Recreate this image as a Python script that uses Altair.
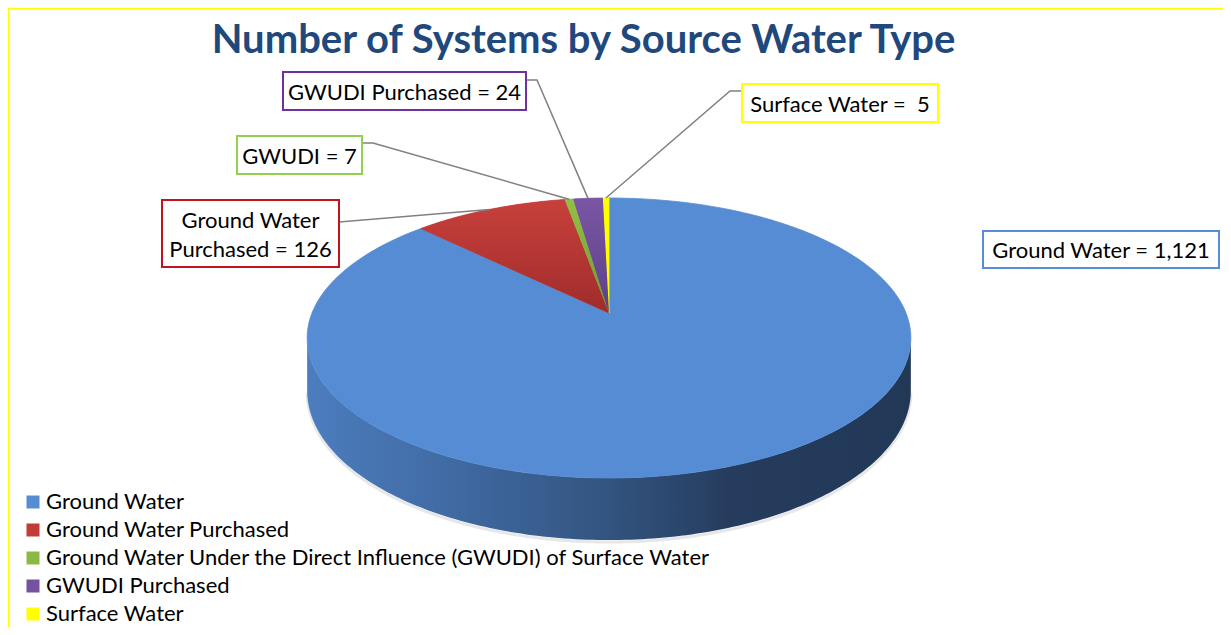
import math
import altair as alt
import pandas as pd

# ---------------- data ----------------
categories = [
    "Ground Water",
    "Ground Water Purchased",
    "Ground Water Under the Direct Influence (GWUDI) of Surface Water",
    "GWUDI Purchased",
    "Surface Water",
]
values = [1121, 126, 7, 24, 5]
short_names = ["Ground Water", "Ground Water\nPurchased", "GWUDI", "GWUDI Purchased", "Surface Water"]
label_seps = [" = ", " = ", " = ", " = ", " =\u00a0 "]
title_text = "Number of Systems by Source Water Type"

# ---------------- styles ----------------
slice_colors = ["#558CD3", "#C23B37", "#8CB844", "#74529E", "#FFFF00"]
border_colors = ["#558ED5", "#C0141C", "#92D050", "#7030A0", "#FFFF00"]
FONT = "Lato"

# ---------------- layout (image pixel units) ----------------
W, H = 1215, 619
CX, CY0 = 609.0, 313.0      # apex of the pie
AX, AY = 297.0, 79.64       # perspective ellipse parameters
PC = -0.1786                # perspective factor
D0 = 51.0                   # pie thickness
N = 180                     # arc resolution
TL = math.acos(PC)          # silhouette tangent angles
TR = 2 * math.pi - TL
LINE_H = 29

XS = alt.Scale(domain=[8, 8 + W], nice=False, zero=False)
YS = alt.Scale(domain=[8, 8 + H], nice=False, zero=False, reverse=True)

df = pd.DataFrame({"cat": categories, "value": values, "order": list(range(len(values)))})

DEN = f"(1 - ({PC})*cos(datum.a))"
PX = f"{CX} + {AX}*sin(datum.a)/{DEN}"
PY = f"({CY0} - {AY}*cos(datum.a))/{DEN}"


def base():
    return (
        alt.Chart(df)
        .transform_joinaggregate(total="sum(value)")
        .transform_window(cum="sum(value)", sort=[alt.SortField("order")], frame=[None, 0])
        .transform_calculate(a0="(datum.cum - datum.value)/datum.total*2*PI")
        .transform_calculate(a1="datum.cum/datum.total*2*PI")
    )


def top_faces():
    return (
        base()
        .transform_calculate(k=f"sequence(0, {N + 3})")
        .transform_flatten(["k"])
        .transform_calculate(a=f"datum.a0 + (datum.k-1)/{N}*(datum.a1-datum.a0)")
        .transform_calculate(isc=f"datum.k==0 || datum.k=={N + 2}")
        .transform_calculate(px=f"datum.isc ? {CX} : {PX}")
        .transform_calculate(py=f"datum.isc ? {CY0} : {PY}")
    )


pos = dict(
    x=alt.X("px:Q", scale=XS, axis=None),
    y=alt.Y("py:Q", scale=YS, axis=None),
    order=alt.Order("k:Q"),
    detail="cat:N",
)

color_scale = alt.Scale(domain=categories, range=slice_colors)

top = top_faces().mark_line(filled=True, strokeWidth=0.8).encode(
    color=alt.Color(
        "cat:N",
        scale=color_scale,
        legend=alt.Legend(
            title=None, orient="none", legendX=14, legendY=483,
            symbolType="square", symbolSize=169, symbolStrokeWidth=0,
            labelFont=FONT, labelFontSize=22, labelColor="#000000",
            labelLimit=1000, rowPadding=6, labelOffset=2, padding=0,
        ),
    ),
    stroke=alt.Stroke("cat:N", scale=color_scale, legend=None),
    **pos,
)


def grad_v(c0, c1):
    return alt.LinearGradient(
        gradient="linear", x1=0, y1=0, x2=0, y2=1,
        stops=[alt.GradientStop(offset=0, color=c0), alt.GradientStop(offset=1, color=c1)],
    )


overlays = []
for cat, c0, c1 in [
    (categories[1], "#C8403C", "#A02C2B"),
    (categories[2], "#93BF48", "#6F9A33"),
    (categories[3], "#7A56A5", "#5E3F86"),
]:
    overlays.append(
        top_faces()
        .transform_filter(alt.datum.cat == cat)
        .mark_line(filled=True, strokeWidth=0, color=grad_v(c0, c1))
        .encode(**pos)
    )

# side of the pie (front half), with horizontal shading
side_data = (
    base()
    .transform_calculate(s0=f"max(datum.a0, {TL})")
    .transform_calculate(s1=f"min(datum.a1, {TR})")
    .transform_filter("datum.s1 > datum.s0")
    .transform_calculate(k=f"sequence(0, {N + 1})")
    .transform_flatten(["k"])
    .transform_calculate(a=f"datum.s0 + datum.k/{N}*(datum.s1-datum.s0)")
    .transform_calculate(px=PX)
    .transform_calculate(py=PY)
    .transform_calculate(pyb=f"datum.py + {D0}/{DEN}")
    .transform_calculate(pys=f"datum.pyb + 2")
)

side_grad = alt.LinearGradient(
    gradient="linear", x1=0, y1=0, x2=1, y2=0,
    stops=[
        alt.GradientStop(offset=0.0, color="#4C7DBE"),
        alt.GradientStop(offset=0.25, color="#4069A2"),
        alt.GradientStop(offset=0.5, color="#32547F"),
        alt.GradientStop(offset=0.7, color="#263C5E"),
        alt.GradientStop(offset=1.0, color="#223857"),
    ],
)

shadow = side_data.mark_line(color="#A0A0A0", strokeWidth=3, opacity=0.25).encode(
    x=alt.X("px:Q", scale=XS, axis=None),
    y=alt.Y("pys:Q", scale=YS, axis=None),
    order=alt.Order("k:Q"),
)

side = side_data.mark_area(color=side_grad).encode(
    x=alt.X("px:Q", scale=XS, axis=None),
    y=alt.Y("py:Q", scale=YS, axis=None),
    y2="pyb:Q",
    detail="cat:N",
)

# ---------------- data labels ----------------
box_x0 = [983, 162, 237, 283, 742]
box_x1 = [1219, 339, 362, 526, 938]
box_y0 = [231, 200, 136, 72, 84]
box_y1 = [268, 267, 174, 110, 122]
lead_start = [None, (339, 222), (362, 143), (526, 80), (742, 91)]
lead_elbow = [None, None, (373, 143), (537, 80), (730, 91)]

total = sum(values)
labels = []
leads = []
cum = 0
for i, (cat, v) in enumerate(zip(categories, values)):
    mid = (cum + v / 2) / total * 2 * math.pi
    cum += v
    den = 1 - PC * math.cos(mid)
    ax_ = CX + AX * math.sin(mid) / den
    ay_ = (CY0 - AY * math.cos(mid)) / den
    text = f"{short_names[i]}{label_seps[i]}{v:,}"
    nlines = text.count("\n") + 1
    labels.append(
        dict(
            cat=cat,
            text=text,
            x0=box_x0[i], x1=box_x1[i], y0=box_y0[i], y1=box_y1[i],
            xm=(box_x0[i] + box_x1[i]) / 2,
            ym=(box_y0[i] + box_y1[i]) / 2 - (nlines - 1) * LINE_H / 2 + 1.5,
            border=border_colors[i],
        )
    )
    if lead_start[i] is not None:
        pts = [lead_start[i]] + ([lead_elbow[i]] if lead_elbow[i] else []) + [(ax_, ay_)]
        for j, (lx, ly) in enumerate(pts):
            leads.append(dict(cat=cat, seq=j, x=lx, y=ly))

lab_df = pd.DataFrame(labels)
lead_df = pd.DataFrame(leads)

leader = alt.Chart(lead_df).mark_line(color="#808080", strokeWidth=1.5).encode(
    x=alt.X("x:Q", scale=XS, axis=None),
    y=alt.Y("y:Q", scale=YS, axis=None),
    order="seq:Q",
    detail="cat:N",
)

boxes = alt.Chart(lab_df).mark_rect(fill="white", strokeWidth=2).encode(
    x=alt.X("x0:Q", scale=XS, axis=None),
    x2="x1:Q",
    y=alt.Y("y0:Q", scale=YS, axis=None),
    y2="y1:Q",
    stroke=alt.Stroke("border:N", scale=None, legend=None),
)

texts = alt.Chart(lab_df).mark_text(
    font=FONT, fontSize=22, color="#000000", align="center", baseline="middle",
    lineBreak="\n", lineHeight=LINE_H,
).encode(
    x=alt.X("xm:Q", scale=XS, axis=None),
    y=alt.Y("ym:Q", scale=YS, axis=None),
    text="text:N",
)

title = alt.Chart(pd.DataFrame({"t": [title_text]})).mark_text(
    font=FONT, fontSize=40, fontWeight="bold", color="#1F497D",
    align="center", baseline="alphabetic",
).encode(
    x=alt.value(583.5 - 8),
    y=alt.value(53 - 8),
    text="t:N",
)

border_top = alt.Chart(pd.DataFrame({"a": [0]})).mark_rule(color="#FFFF00", strokeWidth=1.5).encode(
    x=alt.value(0), x2=alt.value(W), y=alt.value(0.75)
)
border_left = alt.Chart(pd.DataFrame({"a": [0]})).mark_rule(color="#FFFF00", strokeWidth=1.5).encode(
    x=alt.value(0.75), y=alt.value(0), y2=alt.value(H)
)

chart = (
    alt.layer(border_top, border_left, shadow, side, top, *overlays, leader, boxes, texts, title)
    .properties(width=W, height=H, autosize=alt.AutoSizeParams(type="none"), padding=0,
                background="white")
    .configure_view(stroke=None)
)

chart.save("out.html", embed_options={"renderer": "svg", "actions": False})
